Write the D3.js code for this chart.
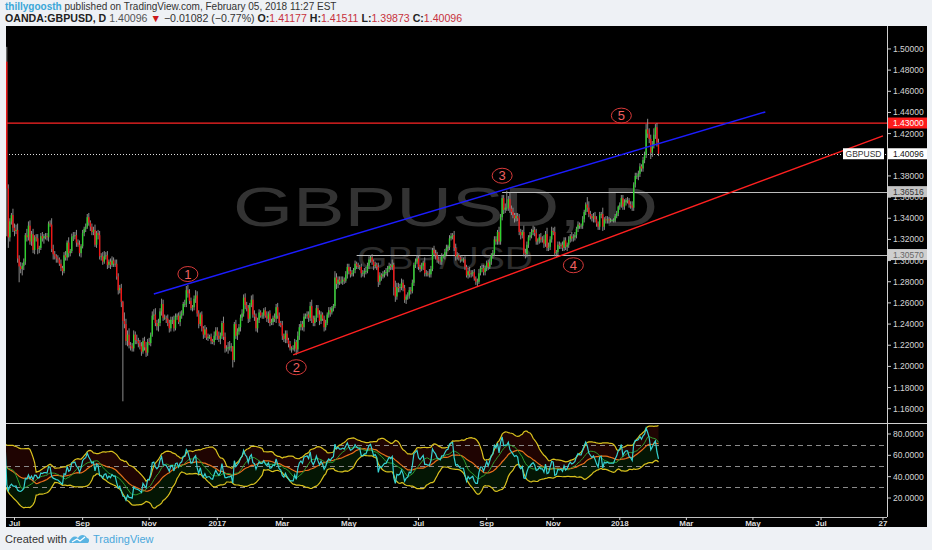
<!DOCTYPE html>
<html><head><meta charset="utf-8">
<script src="https://cdn.jsdelivr.net/npm/d3@7"></script>
<style>body{margin:0;background:#eef1f5;overflow:hidden}svg{display:block}</style>
</head><body><svg id="c" width="932" height="550"></svg>
<script>
// ---------------- DATA ----------------
const startDate = "2016-04-18";          // first daily bar (weekdays only)
const firstOpen = 14300;                  // open of first bar (1/10000)
// daily closes, 1/10000, one row per week Mon..Fri
const closes = [
14270,14390,14270,14340,14400, 14490,14570,14580,14610,14620,
14660,14520,14490,14480,14440, 14380,14420,14440,14430,14370,
14400,14460,14580,14600,14500, 14490,14630,14690,14690,14610,
14630,14480,14430,14420,14520, 14440,14500,14490,14410,14260,
14190,14120,14200,14190,14360, 14680,14690,14720,14880,13680,
13220,13370,13430,13310,13280, 13290,13020,12945,12920,12950,
12990,13240,13220,13330,13180, 13250,13100,13220,13210,13110,
13120,13230,13210,13230,13230, 13220,13350,13340,13110,13060,
13040,13020,13010,12970,12930, 12900,13050,13030,13170,13070,
13090,13225,13230,13240,13170, 13150,13070,13135,13260,13300,
13320,13410,13360,13320,13270, 13290,13150,13260,13240,13040,
13040,12990,13040,13050,12960, 12990,12960,13000,12970,12970,
12850,12720,12740,12610,12430, 12400,12240,12300,12200,12190,
12170,12300,12250,12240,12220, 12190,12140,12240,12180,12130,
12230,12220,12300,12480,12490, 12410,12380,12410,12520,12590,
12460,12460,12450,12410,12360, 12440,12440,12360,12470,12480,
12420,12480,12500,12590,12590, 12720,12690,12620,12550,12560,
12640,12670,12500,12400,12490, 12360,12300,12350,12270,12280,
12280,12240,12230,12290,12340,
12290,12260,12290,12410,12280, 12170,12170,12180,12180,12190,
12060,12400,12290,12330,12370, 12460,12500,12650,12580,12550,
12450,12580,12630,12490,12470, 12360,12440,12510,12480,12480,
12530,12480,12450,12500,12410, 12420,12460,12450,12560,12480,
12410,12390,12290,12260,12310, 12250,12210,12170,12170,12170,
12230,12160,12290,12370,12400, 12370,12470,12480,12490,12460,
12570,12450,12410,12460,12550, 12490,12430,12490,12450,12370,
12410,12490,12530,12510,12550, 12570,12840,12780,12820,12800,
12800,12820,12810,12870,12940, 12900,12870,12880,12910,12970,
12950,12940,12940,12880,12880, 12900,12900,12950,13010,13030,
12990,12950,12960,12940,12800, 12860,12850,12870,12890,12890,
12920,12950,12940,12960,12750, 12660,12750,12740,12750,12790,
12740,12630,12660,12670,12720, 12710,12790,12960,12990,13020,
12940,12920,12950,12980,12880, 12880,12870,12870,12920,13100,
13070,13050,13010,13000,12990, 13040,13040,13080,13120,13130,
13210,13230,13240,13120,13040, 13050,13030,13010,13010,13010,
12940,12860,12900,12870,12880, 12890,12830,12800,12800,12880,
12930,12930,12890,12930,12980, 12940,12990,13050,13070,13200,
13180,13270,13180,13410,13590, 13480,13500,13500,13580,13490,
13460,13430,13400,13420,13400, 13270,13240,13270,13070,13060,
13150,13220,13240,13270,13290, 13260,13180,13190,13220,13200,
13200,13160,13250,13120,13130, 13200,13280,13270,13070,13080,
13150,13140,13150,13120,13190, 13130,13150,13200,13230,13210,
13220,13240,13300,13340,13330, 13330,13390,13460,13530,13500,
13440,13420,13400,13420,13390, 13350,13320,13430,13440,13320,
13390,13380,13390,13380,13380, 13380,13380,13420,13450,13510,
13530,13590,13510,13550,13570, 13570,13530,13520,13500,13720,
13800,13800,13820,13890,13870, 13950,14000,14240,14200,14150,
14020,14090,14190,14260,14117.7,
14009.6
];
// wick extension above max(open,close), in 1/1000
const highExt = [
3,2,4,2,3, 2,3,2,3,2, 2,4,3,2,3, 3,2,3,2,4, 2,3,2,3,4, 3,2,3,2,4, 3,4,2,3,2, 3,2,3,4,2,
3,4,3,5,2, 3,4,3,6,14, 4,3,2,6,4, 5,6,3,4,3, 3,2,6,4,5, 3,5,2,3,4, 2,3,4,2,3, 3,2,3,6,4,
3,2,3,2,4, 2,3,4,2,5, 2,3,4,3,5, 3,4,2,3,2, 3,3,4,2,3, 3,5,2,3,4, 3,4,5,3,4, 2,3,4,3,4,
4,3,3,4,1, 8,5,4,6,3, 3,4,3,5,3, 3,4,3,4,5, 3,4,2,4,5, 6,3,4,3,5, 4,3,2,4,3, 3,3,4,3,2,
3,4,3,2,4, 4,5,4,3,2, 3,5,4,3,2, 3,2,4,2,3, 2,3,2,4,3,
3,4,3,2,6, 4,3,5,6,3, 0,2,4,3,3, 3,4,3,4,3, 3,2,4,5,4, 3,2,3,2,3, 2,3,4,2,3, 3,2,4,3,4,
3,2,4,2,3, 3,2,3,2,3, 3,2,4,3,3, 3,3,2,3,3, 4,6,3,2,3, 3,4,3,2,3, 3,2,3,3,2, 2,6,4,3,3,
5,3,2,3,3, 3,4,3,2,3, 2,3,2,3,3, 3,4,3,3,2, 3,2,3,2,4, 3,2,3,2,4, 3,3,2,5,2, 6,4,4,3,4,
3,3,2,3,3, 3,3,2,3,3, 3,2,3,2,5, 3,2,5,3,2, 4,3,3,3,4, 3,2,3,3,2, 3,3,2,4,4, 3,2,2,3,2,
3,2,3,4,3, 2,3,2,3,4, 2,3,3,2,2, 3,3,2,3,3, 3,2,5,3,3, 3,4,16,3,6, 3,4,2,3,3, 4,3,2,6,4,
3,2,3,3,4, 3,4,2,3,4, 3,4,3,6,4, 3,4,3,5,2, 3,3,2,3,3, 3,2,3,2,4, 3,3,2,3,2, 2,3,2,2,7,
6,3,2,3,4, 3,2,3,2,6, 2,3,3,2,2, 1,2,2,2,1,
2,3,3,3,2, 3,2,3,4,2, 3,3,3,3,2, 3,3,5,10,5, 4,4,6,3,4,
3.4
];
// wick extension below min(open,close), in 1/1000
const lowExt = [
2,3,2,4,3, 3,2,3,2,4, 3,2,3,4,2, 2,4,2,3,3, 3,2,3,2,2, 3,4,2,3,2, 2,3,4,2,3, 4,2,3,2,3,
2,4,4,8,2, 3,3,4,2,45, 10,4,3,4,5, 3,4,15,4,6, 4,3,4,3,3, 4,3,4,3,5, 4,2,3,5,3, 3,4,2,3,5,
3,4,3,2,3, 4,2,3,3,4, 3,2,4,3,4, 2,3,4,2,3, 3,2,3,4,3, 3,2,3,4,3, 4,3,2,3,4, 3,4,2,3,3,
3,4,3,5,76, 4,4,5,3,4, 3,3,4,3,4, 3,4,2,3,4, 3,2,3,2,4, 3,4,5,3,4, 3,2,4,3,4, 3,4,3,2,3,
2,4,3,2,3, 3,4,3,2,3, 3,4,3,4,2, 3,4,3,2,3, 2,3,2,3,4,
4,3,5,3,3, 4,3,5,3,4, 7,2,3,4,3, 4,3,3,4,3, 4,3,2,3,4, 3,4,3,2,3, 3,2,3,4,3, 2,3,3,4,3,
3,2,4,3,4, 3,3,2,4,2, 3,5,3,4,3, 3,4,2,3,4, 3,4,3,3,4, 3,4,3,2,4, 3,2,3,4,2, 3,2,5,4,3,
2,3,3,2,4, 3,3,2,3,3, 3,2,3,4,3, 4,3,2,3,3, 3,4,2,3,5, 3,4,2,3,3, 4,3,3,3,8, 5,3,4,4,3,
3,3,4,3,3, 3,2,3,3,2, 3,3,2,4,3, 3,2,3,3,2, 3,4,3,3,3, 3,2,3,3,3, 3,2,3,3,4, 3,3,3,2,3,
3,2,3,3,3, 3,2,3,4,2, 2,4,3,3,3, 3,2,3,3,3, 3,3,3,3,3, 4,3,3,3,4, 3,3,4,3,3, 3,4,3,3,4,
3,3,3,3,3, 3,3,3,3,3, 3,4,3,3,3, 3,3,3,3,4, 3,3,3,3,3, 3,4,3,3,3, 3,3,3,3,3, 3,3,3,3,4,
3,3,3,4,3, 3,3,3,3,4, 3,3,3,3,2, 1,2,2,2,3,
3,3,3,3,3, 3,3,3,3,3, 3,3,4,3,3, 3,3,3,4,4, 6,4,3,4,4,
2.2
];
const priceTicks = [1.16,1.18,1.20,1.22,1.24,1.26,1.28,1.30,1.32,1.34,1.36,1.38,1.40,1.42,1.44,1.46,1.48,1.50,1.52];
const rsiTicks = [20,40,60,80];
const rsiLevels = [30,50,70];
const timeTickDates = ["2016-07-01","2016-09-01","2016-11-01","2017-01-02","2017-03-01","2017-05-01","2017-07-03","2017-09-01","2017-11-01","2018-01-01","2018-03-01","2018-05-01","2018-07-02","2018-08-27"];
const timeTickLabels = ["Jul","Sep","Nov","2017","Mar","May","Jul","Sep","Nov","2018","Mar","May","Jul","27"];
const resistance = 1.43;
const grayLevels = [1.36516, 1.30570];
const grayLevelStarts = ["2017-09-15", "2017-05-08"];
const lastPrice = 1.40096;
const trendBlue = [["2016-11-04", 1.2684], ["2018-05-11", 1.4405]];
const trendRed  = [["2017-03-10", 1.2108], ["2018-08-27", 1.4178]];
const waveLabels = ["1","2","3","4","5"];
const waveDates  = ["2016-12-06","2017-03-14","2017-09-15","2017-11-20","2018-01-02"];
const wavePrices = [1.2873, 1.1992, 1.3802, 1.2956, 1.4370];
const headerUser = "thillygoosth";
const headerPub = " published on TradingView.com, February 05, 2018 11:27 EST";
const headerSymbol = "OANDA:GBPUSD, D";
const headerChange = "\u22120.01082 (\u22120.77%)";
const ohlcKeys = ["O:","H:","L:","C:"];
const ohlcVals = ["1.41177","1.41511","1.39873","1.40096"];

// ---------------- HELPERS ----------------
const DAY = 864e5;
const BASE = Date.UTC(2016,6,1);
function toT(s){const [y,m,d]=s.split("-").map(Number);return Date.UTC(y,m-1,d);}
function bdIndex(s){
  const t = toT(s); let n = 0;
  if (t >= BASE){ for(let u=BASE;u<t;u+=DAY){const w=new Date(u).getUTCDay(); if(w>0&&w<6) n++;} }
  else { for(let u=BASE-DAY;u>=t;u-=DAY){const w=new Date(u).getUTCDay(); if(w>0&&w<6) n--;} }
  return n;
}

// ---------------- LAYOUT ----------------
const L = 6, R = 887, RR = 927, T = 26, MB = 423, RB = 517, B = 527;
const x = d3.scaleLinear().domain([0, 391]).range([14.5, 619.8]);
const y = d3.scaleLinear().domain([1.1465, 1.5217]).range([MB, T]);
const ry = d3.scaleLinear().domain([2.19, 90.31]).range([RB, MB]);

const svg = d3.select("#c");
svg.append("rect").attr("width",932).attr("height",550).attr("fill","#eef1f5");
svg.append("rect").attr("x",L).attr("y",T).attr("width",RR-L).attr("height",B-T).attr("fill","#000");

const defs = svg.append("defs");
defs.append("clipPath").attr("id","cm").append("rect").attr("x",L).attr("y",T).attr("width",R-L).attr("height",MB-T);
defs.append("clipPath").attr("id","cr").append("rect").attr("x",L).attr("y",MB).attr("width",R-L).attr("height",RB-MB);

// ---------------- BARS ----------------
const i0 = bdIndex(startDate);
const bars = closes.map((c,i)=>{
  const o = (i===0?firstOpen:closes[i-1])/10000, cc = c/10000;
  return {idx:i0+i, o, c:cc, h:Math.max(o,cc)+highExt[i]/1000, l:Math.min(o,cc)-lowExt[i]/1000};
});

// ---------------- MAIN PANEL ----------------
const gm = svg.append("g").attr("clip-path","url(#cm)");
// watermark
gm.append("text").attr("x",445.5).attr("y",226).attr("text-anchor","middle")
  .attr("font-family","Liberation Sans, Arial, sans-serif").attr("font-size",56)
  .attr("textLength",425).attr("lengthAdjust","spacingAndGlyphs")
  .attr("fill","#333").text("GBPUSD, D");
gm.append("text").attr("x",445).attr("y",269).attr("text-anchor","middle")
  .attr("font-family","Liberation Sans, Arial, sans-serif").attr("font-size",31)
  .attr("textLength",176).attr("lengthAdjust","spacingAndGlyphs")
  .attr("fill","#2c2c2c").text("GBP/USD");

// horizontal levels
gm.append("line").attr("x1",L).attr("x2",R).attr("y1",y(resistance)).attr("y2",y(resistance))
  .attr("stroke","#ff2424").attr("stroke-width",1.3);
grayLevels.forEach((p,k)=>{
  gm.append("line").attr("x1",x(bdIndex(grayLevelStarts[k]))).attr("x2",R)
    .attr("y1",Math.round(y(p))+0.5).attr("y2",Math.round(y(p))+0.5)
    .attr("stroke","#bdbdbd").attr("stroke-width",1);
});
gm.append("line").attr("x1",L).attr("x2",R).attr("y1",Math.round(y(lastPrice))+0.5).attr("y2",Math.round(y(lastPrice))+0.5)
  .attr("stroke","#e0e0e0").attr("stroke-width",1).attr("stroke-dasharray","1,2");

// candles
const cg = gm.append("g");
cg.selectAll("line.w").data(bars).join("line").attr("class","w")
  .attr("x1",d=>x(d.idx)).attr("x2",d=>x(d.idx)).attr("y1",d=>y(d.h)).attr("y2",d=>y(d.l))
  .attr("stroke","#9a9a9a").attr("stroke-width",0.9);
cg.selectAll("rect").data(bars).join("rect")
  .attr("x",d=>x(d.idx)-0.7).attr("width",1.4)
  .attr("y",d=>y(Math.max(d.o,d.c))).attr("height",d=>Math.max(0.8,Math.abs(y(d.o)-y(d.c))))
  .attr("fill",d=>d.c>=d.o?"#2fd12f":"#f01414");

// trend lines
function tl(pts,color,w){
  gm.append("line").attr("x1",x(bdIndex(pts[0][0]))).attr("y1",y(pts[0][1]))
    .attr("x2",x(bdIndex(pts[1][0]))).attr("y2",y(pts[1][1]))
    .attr("stroke",color).attr("stroke-width",w);
}
tl(trendBlue,"#1c1cff",1.5);
tl(trendRed,"#ff2020",1.4);

// wave labels
waveLabels.forEach((t,k)=>{
  const cx = x(bdIndex(waveDates[k])), cy = y(wavePrices[k]);
  gm.append("ellipse").attr("cx",cx).attr("cy",cy).attr("rx",10).attr("ry",7.5)
    .attr("fill","none").attr("stroke","#d83a3a").attr("stroke-width",1);
  gm.append("text").attr("x",cx).attr("y",cy+4.5).attr("text-anchor","middle")
    .attr("font-family","Liberation Sans, Arial, sans-serif").attr("font-size",13)
    .attr("fill","#f06060").text(t);
});

// ---------------- RSI PANEL ----------------
const N = 14, BL = 20, ML = 10;
const rsi = new Array(bars.length).fill(null);
let ag=0, al=0;
for (let i=1;i<bars.length;i++){
  const ch = bars[i].c - bars[i-1].c, g = Math.max(ch,0), l = Math.max(-ch,0);
  if (i<=N){ ag+=g/N; al+=l/N; if(i===N) rsi[i] = al===0?100:100-100/(1+ag/al); }
  else { ag=(ag*(N-1)+g)/N; al=(al*(N-1)+l)/N; rsi[i] = al===0?100:100-100/(1+ag/al); }
}
const basis = rsi.map((v,i)=>{ if(i<N+BL-1) return null; const s=rsi.slice(i-BL+1,i+1); return d3.mean(s); });
const dev = rsi.map((v,i)=>{ if(i<N+BL-1) return null; const s=rsi.slice(i-BL+1,i+1); return d3.deviation(s)*Math.sqrt((BL-1)/BL); });
const upper = basis.map((b,i)=> b===null?null:b+2*dev[i]);
const lower = basis.map((b,i)=> b===null?null:b-2*dev[i]);
const ma = rsi.map((v,i)=>{ if(i<N+ML-1) return null; return d3.mean(rsi.slice(i-ML+1,i+1)); });

const gr = svg.append("g").attr("clip-path","url(#cr)");
const idxs = bars.map(b=>b.idx);
gr.append("path").datum(idxs.map((d,i)=>i)).attr("fill","rgba(130,18,8,0.24)")
  .attr("d", d3.area().defined(i=>basis[i]!==null).x(i=>x(idxs[i])).y0(i=>ry(basis[i])).y1(i=>ry(upper[i])));
gr.append("path").datum(idxs.map((d,i)=>i)).attr("fill","rgba(20,100,20,0.22)")
  .attr("d", d3.area().defined(i=>basis[i]!==null).x(i=>x(idxs[i])).y0(i=>ry(lower[i])).y1(i=>ry(basis[i])));
rsiLevels.forEach(v=>{
  gr.append("line").attr("x1",L).attr("x2",R).attr("y1",Math.round(ry(v))+0.5).attr("y2",Math.round(ry(v))+0.5)
    .attr("stroke","#8a8a8a").attr("stroke-width",1).attr("stroke-dasharray","5,4");
});
function ln(arr,color,w){
  gr.append("path").datum(idxs.map((d,i)=>i)).attr("fill","none").attr("stroke",color).attr("stroke-width",w)
    .attr("d", d3.line().defined(i=>arr[i]!==null).x(i=>x(idxs[i])).y(i=>ry(arr[i])));
}
ln(upper,"#d9c21e",1.2);
ln(lower,"#d9c21e",1.2);
ln(basis,"#e8701c",1.2);
ln(ma,"#2f9e2f",1);
ln(rsi,"#36d3d3",1.2);

// ---------------- FRAMES & AXES ----------------
svg.append("line").attr("x1",L).attr("x2",RR).attr("y1",MB+0.5).attr("y2",MB+0.5).attr("stroke","#cfcfcf");
svg.append("line").attr("x1",L).attr("x2",R).attr("y1",RB+0.5).attr("y2",RB+0.5).attr("stroke","#bfbfbf");
svg.append("line").attr("x1",R+0.5).attr("x2",R+0.5).attr("y1",T).attr("y2",RB).attr("stroke","#cfcfcf");

const af = "Liberation Sans, Arial, sans-serif";
priceTicks.forEach(p=>{
  const yy = y(p);
  if (yy < T+2 || yy > MB-2) return;
  svg.append("line").attr("x1",R).attr("x2",R+4).attr("y1",yy).attr("y2",yy).attr("stroke","#cfcfcf");
  svg.append("text").attr("x",893).attr("y",yy+3).attr("font-family",af).attr("font-size",8.5)
    .attr("fill","#d6d6d6").text(p.toFixed(5));
});
rsiTicks.forEach(v=>{
  const yy = ry(v);
  svg.append("line").attr("x1",R).attr("x2",R+4).attr("y1",yy).attr("y2",yy).attr("stroke","#cfcfcf");
  svg.append("text").attr("x",893).attr("y",yy+3).attr("font-family",af).attr("font-size",8.5)
    .attr("fill","#d6d6d6").text(v.toFixed(4));
});
timeTickDates.forEach((d,k)=>{
  const xx = x(bdIndex(d));
  svg.append("line").attr("x1",xx).attr("x2",xx).attr("y1",RB).attr("y2",RB+3).attr("stroke","#cfcfcf");
  svg.append("text").attr("x",xx).attr("y",525.5).attr("text-anchor","middle").attr("font-family",af)
    .attr("font-size",8).attr("font-weight","bold").attr("fill","#dcdcdc").text(timeTickLabels[k]);
});

// price labels on axis
function box(p,bg,fg,txt){
  const yy = y(p);
  svg.append("rect").attr("x",R+1).attr("y",yy-5.5).attr("width",RR-R-1).attr("height",11).attr("fill",bg);
  svg.append("text").attr("x",893).attr("y",yy+3).attr("font-family",af).attr("font-size",8.5).attr("fill",fg).text(txt);
}
box(resistance,"#ff1c1c","#ffffff",resistance.toFixed(5));
box(grayLevels[0],"#c4c4c4","#333333",grayLevels[0].toFixed(5));
box(grayLevels[1],"#cfcfcf","#666666",grayLevels[1].toFixed(5));
box(lastPrice,"#ffffff","#111111",lastPrice.toFixed(5));
svg.append("rect").attr("x",843).attr("y",y(lastPrice)-5.5).attr("width",41).attr("height",11).attr("fill","#ffffff");
svg.append("text").attr("x",863.5).attr("y",y(lastPrice)+3).attr("text-anchor","middle").attr("font-family",af)
  .attr("font-size",8.5).attr("fill","#333").text("GBPUSD");

// ---------------- HEADER ----------------
const hf = "Liberation Sans, Arial, sans-serif";
const h1 = svg.append("text").attr("x",5).attr("y",10).attr("font-family",hf).attr("font-size",10);
h1.append("tspan").attr("fill","#3aa6d8").attr("font-weight","bold").text(headerUser);
h1.append("tspan").attr("fill","#333").text(headerPub);
const h2 = svg.append("text").attr("x",5).attr("y",21.5).attr("font-family",hf).attr("font-size",10.6);
h2.append("tspan").attr("fill","#222").attr("font-weight","bold").text(headerSymbol+" ");
h2.append("tspan").attr("fill","#555").text(lastPrice.toFixed(5)+" ");
h2.append("tspan").attr("fill","#cc1a1a").text("\u25BC ");
h2.append("tspan").attr("fill","#333").text(headerChange+" ");
ohlcKeys.forEach((k,i)=>{
  h2.append("tspan").attr("fill","#222").attr("font-weight","bold").text(k);
  h2.append("tspan").attr("fill","#c8323c").text(ohlcVals[i]+(i<3?" ":""));
});

// ---------------- FOOTER ----------------
svg.append("text").attr("x",5).attr("y",543).attr("font-family",hf).attr("font-size",11)
  .attr("fill","#333").text("Created with");
const lg = svg.append("g").attr("transform","translate(69,533)");
lg.append("path").attr("d","M0,9 C2,4 6,2 9,5 C11,1 16,1 18,5 C20,5 21,8 19,10 L1,10 Z").attr("fill","#5ab4e2");
lg.append("path").attr("d","M3,9 L8,6 L11,8 L16,4").attr("fill","none").attr("stroke","#ffffff").attr("stroke-width",1.2);
svg.append("text").attr("x",93).attr("y",543).attr("font-family",hf).attr("font-size",11)
  .attr("fill","#4aa8dc").text("TradingView");
</script></body></html>
